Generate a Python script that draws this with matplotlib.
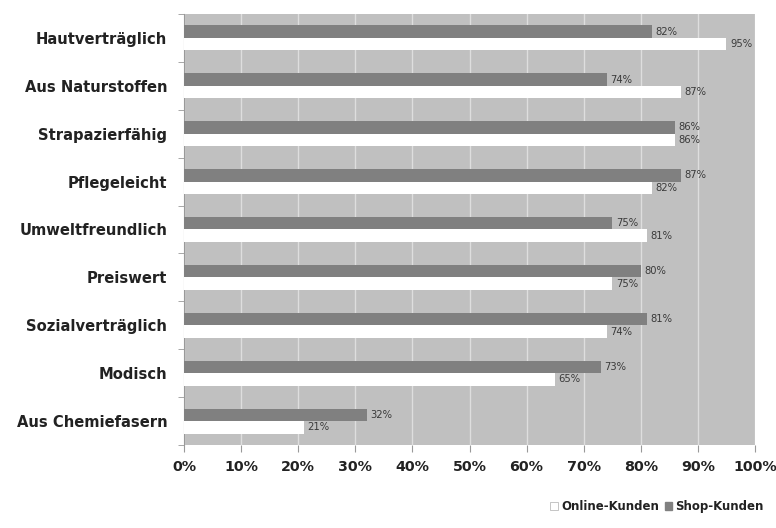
import numpy as np
import matplotlib.pyplot as plt
from matplotlib.patches import Patch

plt.rcParams['font.family'] = ['DejaVu Sans']

# Eigenschaften, oben beginnend
categories = ['Hautverträglich', 'Aus Naturstoffen', 'Strapazierfähig', 'Pflegeleicht',
              'Umweltfreundlich', 'Preiswert', 'Sozialverträglich', 'Modisch',
              'Aus Chemiefasern']
shop = [82, 74, 86, 87, 75, 80, 81, 73, 32]
online = [95, 87, 86, 82, 81, 75, 74, 65, 21]
xticks = [0, 10, 20, 30, 40, 50, 60, 70, 80, 90, 100]

fig = plt.figure(figsize=(7.76, 5.28), dpi=100)
ax = fig.add_axes([0.2371, 0.1572, 0.7359, 0.8163])
ax.set_facecolor('#c0c0c0')

y = np.arange(len(categories))
h = 0.26
bars_shop = ax.barh(y - h / 2, shop, height=h, color='#808080', zorder=3)
bars_online = ax.barh(y + h / 2, online, height=h, color='white', zorder=3)

for bars in (bars_shop, bars_online):
    for b in bars:
        v = b.get_width()
        ax.text(v + 0.6, b.get_y() + b.get_height() / 2, f'{v:.0f}%',
                va='center', ha='left', fontsize=7.2, color='#3a3a3a', zorder=4)

ax.set_xlim(0, 100)
ax.set_ylim(len(categories) - 0.5, -0.5)
ax.set_xticks(xticks)
ax.set_xticklabels([f'{t}%' for t in xticks], fontsize=10.3, fontweight='bold',
                   color='#222222')
ax.set_yticks(y)
ax.set_yticklabels(categories, fontsize=10.6, fontweight='bold', color='#222222')
ax.set_yticks(np.arange(len(categories) + 1) - 0.5, minor=True)
ax.tick_params(axis='y', which='major', length=0, pad=12)
ax.tick_params(axis='y', which='minor', length=4, color='#999999')
ax.tick_params(axis='x', length=5, color='#999999', pad=6)

ax.grid(axis='x', color='#dedede', linewidth=1, zorder=1)
ax.set_axisbelow(True)
for side in ('top', 'right', 'bottom'):
    ax.spines[side].set_visible(False)
ax.spines['left'].set_color('#999999')

handles = [Patch(facecolor='white', edgecolor='#bbbbbb', linewidth=0.6, label='Online-Kunden'),
           Patch(facecolor='#808080', edgecolor='#808080', label='Shop-Kunden')]
fig.legend(handles=handles, loc='center right', bbox_to_anchor=(0.998, 0.04), ncol=2,
           frameon=False, handlelength=0.6, handleheight=0.6, handletextpad=0.3,
           columnspacing=0.5, prop={'size': 8.5, 'weight': 'bold'})
for t in fig.legends[0].get_texts():
    t.set_color('#222222')

fig.savefig('out.png', dpi=100)
